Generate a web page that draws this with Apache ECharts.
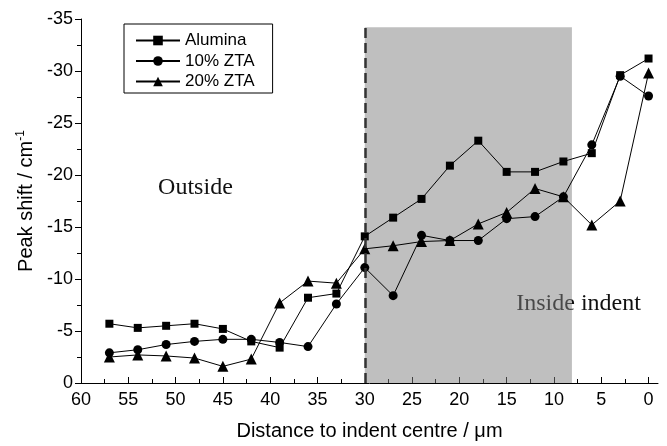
<!DOCTYPE html>
<html>
<head>
<meta charset="utf-8">
<script src="https://cdn.jsdelivr.net/npm/echarts@6/dist/echarts.min.js"></script>
<style>html,body{margin:0;padding:0;background:#fff}#c{width:667px;height:446px}</style>
</head>
<body>
<div id="c"></div>
<script>
// ---- data ----
const distances = [57,54,51,48,45,42,39,36,33,30,27,24,21,18,15,12,9,6,3,0];
const alumina = [-5.7,-5.3,-5.5,-5.7,-5.2,-4.0,-3.4,-8.2,-8.6,-14.1,-15.9,-17.7,-20.9,-23.3,-20.3,-20.3,-21.3,-22.1,-29.6,-31.2];
const zta10 = [-2.9,-3.2,-3.7,-4.0,-4.2,-4.2,-3.9,-3.5,-7.6,-11.1,-8.4,-14.2,-13.7,-13.7,-15.8,-16.0,-17.9,-22.9,-29.5,-27.6];
const zta20 = [-2.5,-2.7,-2.6,-2.4,-1.6,-2.3,-7.7,-9.8,-9.6,-12.9,-13.2,-13.6,-13.7,-15.3,-16.4,-18.7,-17.9,-15.2,-17.5,-29.8];
const seriesNames = ['Alumina','10% ZTA','20% ZTA'];
const xMajorTicks = [0,5,10,15,20,25,30,35,40,45,50,55,60];
const xMinorTicks = [2.5,7.5,12.5,17.5,22.5,27.5,32.5,37.5,42.5,47.5,52.5,57.5];
const indentBand = [30, 8.1];   // shaded region in distance
const indentTop = -34.2;        // shaded region top value
const edgeLine = [30, -34.5];   // dashed boundary at 30 µm
const annotations = [
  {text:'Outside', x:47.9, y:-18.8},
  {text:'Inside indent', x:7.4, y:-7.6}
];

const pair = arr => distances.map((d,i)=>[d, arr[i]]);

const chart = echarts.init(document.getElementById('c'), null, {renderer:'canvas'});
const FONT = '"Liberation Sans", Arial, Helvetica, sans-serif';
const SERIF = '"Liberation Serif", "Times New Roman", serif';

const lineBase = (name, data, symbol, size) => ({
  name, type:'line', data, symbol, symbolSize:size, z:2,
  lineStyle:{color:'#000', width:1},
  itemStyle:{color:'#000'},
  animation:false
});

chart.setOption({
  animation:false,
  grid:{left:81, right:9, top:19, bottom:63, containLabel:false},
  legend:{
    orient:'vertical', left:124, top:24,
    borderColor:'#000', borderWidth:1, borderRadius:0,
    padding:[8,18,3,11], itemWidth:44, itemHeight:12, itemGap:3.5,
    textStyle:{fontFamily:FONT, fontSize:17, lineHeight:17, color:'#000'},
    data:seriesNames
  },
  xAxis:[{
    type:'value', min:-1, max:60, inverse:true,
    name:'Distance to indent centre / \u03bcm', nameLocation:'middle', nameGap:38,
    nameTextStyle:{fontFamily:FONT, fontSize:20, color:'#000'},
    axisLine:{show:true, onZero:false, lineStyle:{color:'#000', width:1}},
    axisTick:{show:true, inside:true, length:6, customValues:xMajorTicks, lineStyle:{color:'#000'}},
    axisLabel:{show:true, customValues:xMajorTicks, margin:8, fontFamily:FONT, fontSize:18, color:'#000'},
    splitLine:{show:false}
  },{
    type:'value', min:-1, max:60, inverse:true, position:'bottom',
    axisLine:{show:false},
    axisTick:{show:true, inside:true, length:4, customValues:xMinorTicks, lineStyle:{color:'#000'}},
    axisLabel:{show:false},
    splitLine:{show:false}
  }],
  yAxis:{
    type:'value', min:-35, max:0, interval:5, inverse:true,
    name:'Peak shift / cm{sup|-1}', nameLocation:'middle', nameGap:42, nameRotate:90,
    nameTextStyle:{fontFamily:FONT, fontSize:20, color:'#000',
      rich:{sup:{fontFamily:FONT, fontSize:12, color:'#000', padding:[0,0,10,0]}}},
    axisLine:{show:true, onZero:false, lineStyle:{color:'#000', width:1}},
    axisTick:{show:true, inside:false, length:6, lineStyle:{color:'#000'}},
    minorTick:{show:true, splitNumber:2, length:4, lineStyle:{color:'#000'}},
    axisLabel:{margin:8, fontFamily:FONT, fontSize:18, color:'#000'},
    splitLine:{show:false}
  },
  series:[
    lineBase(seriesNames[0], pair(alumina), 'rect', 8),
    lineBase(seriesNames[1], pair(zta10), 'circle', 9),
    lineBase(seriesNames[2], pair(zta20), 'triangle', 11),
    {
      name:'band', type:'line', data:[], z:3, silent:true,
      markArea:{silent:true, itemStyle:{color:'rgba(128,128,128,0.5)'},
        data:[[{coord:[indentBand[0], 0]},{coord:[indentBand[1], indentTop]}]]}
    },
    {
      name:'edge', type:'line', data:[], z:4, silent:true,
      markLine:{silent:true, symbol:['none','none'], label:{show:false},
        lineStyle:{color:'#333', width:2.5, type:[10,5]},
        data:[[{coord:[edgeLine[0], 0]},{coord:[edgeLine[0], edgeLine[1]]}]]}
    }
  ]
});

// text annotations positioned through the axes
const g = annotations.map(a => {
  const p = chart.convertToPixel({xAxisIndex:0, yAxisIndex:0}, [a.x, a.y]);
  return {type:'text', x:p[0], y:p[1], z:0, silent:true,
    style:{text:a.text, fill:'#111', font:'24px ' + SERIF, textAlign:'center', textVerticalAlign:'middle'}};
});
chart.setOption({graphic:g});
</script>
</body>
</html>
